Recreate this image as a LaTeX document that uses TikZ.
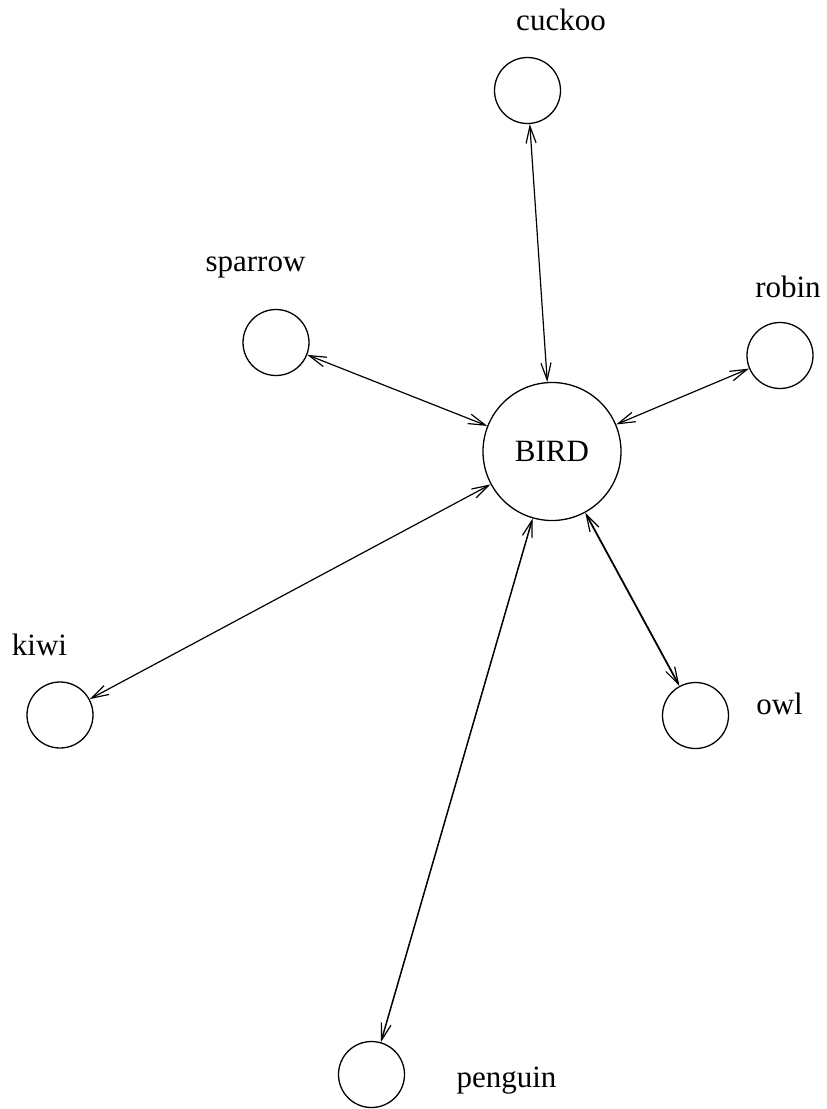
\documentclass[tikz,border=0pt]{standalone}
\usepackage{fontspec}
\setmainfont{Liberation Serif}
\usetikzlibrary{arrows.meta}
\begin{document}
\begin{tikzpicture}[x=1pt,y=-1pt,
  bird/.style={circle,draw,line width=1.3pt,minimum size=66pt,inner sep=0pt},
  hub/.style={circle,draw,line width=1.3pt,minimum size=138pt,inner sep=0pt,
    font=\fontsize{31}{37}\selectfont},
  tag/.style={anchor=base,inner sep=0pt,font=\fontsize{31}{37}\selectfont},
  link/.style={line width=1.2pt,
    {Straight Barb[length=17pt,width=10pt,line width=1.2pt]}-{Straight Barb[length=17pt,width=10pt,line width=1.2pt]}}]
  \useasboundingbox (0,0) rectangle (827,1109);

  % central node
  \node[hub] (bird) at (552,451.5) {BIRD};

  % outer nodes
  \node[bird] (cuckoo)  at (527.5,90.5) {};
  \node[bird] (sparrow) at (276,342.5) {};
  \node[bird] (robin)   at (780,355.5) {};
  \node[bird] (kiwi)    at (60,715) {};
  \node[bird] (owl)     at (695.5,715.5) {};
  \node[bird] (penguin) at (371.5,1074.5) {};

  % names beside the nodes
  \node[tag] (lcuckoo)  at (561,30) {cuckoo};
  \node[tag] (lsparrow) at (255.5,271) {sparrow};
  \node[tag] (lrobin)   at (788,297) {robin};
  \node[tag] (lkiwi)    at (39.5,655) {kiwi};
  \node[tag] (lowl)     at (779.5,714) {owl};
  \node[tag] (lpenguin) at (506.5,1087) {penguin};

  % two-way links to the hub
  \draw[link] (cuckoo) -- (bird);
  \draw[link] (sparrow) -- (bird);
  \draw[link] (robin) -- (bird);
  \draw[link] (kiwi) -- (bird);
  \draw[link,line width=1.8pt] (owl) -- (bird);
  \draw[link,line width=1.5pt] (penguin) -- (bird);
\end{tikzpicture}
\end{document}
